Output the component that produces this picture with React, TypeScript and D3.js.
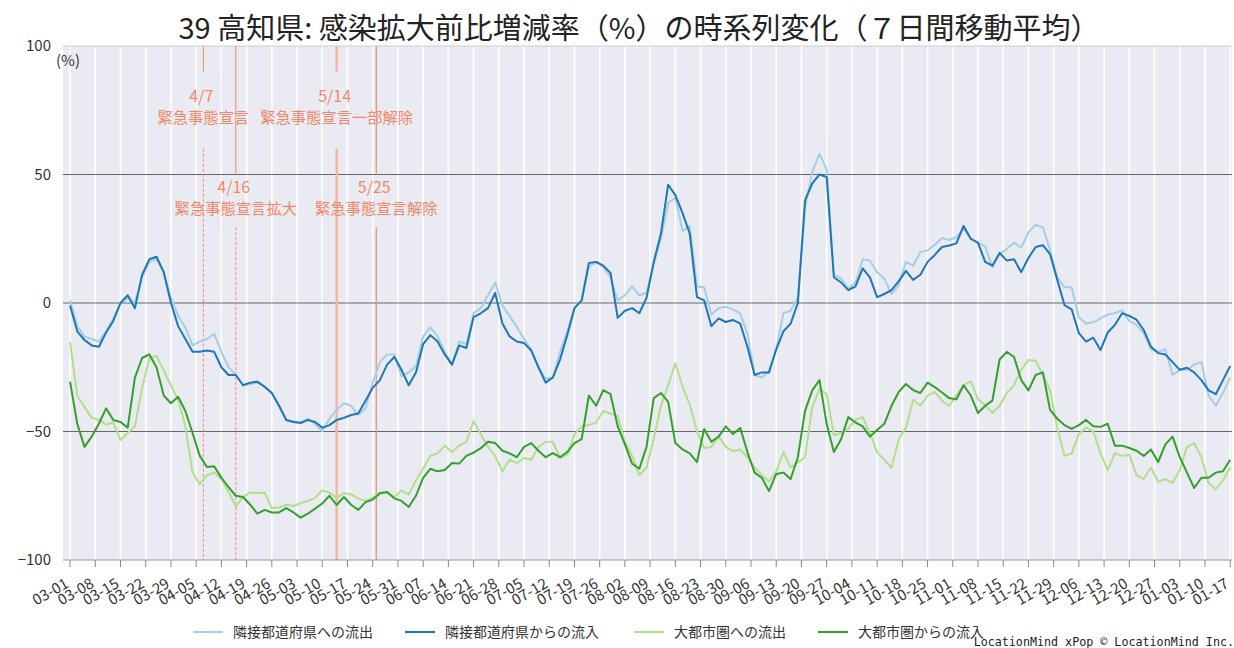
import * as d3 from 'd3';

// 2-day samples, 2020-03-01 .. 2021-01-17
const START = new Date(2020, 2, 1);
const STEP_DAYS = 2;

const neighborOut = [
  1, -9, -13, -14, -15, -11, -6, 0, 2, 0, 10, 16, 17, 12, 2, -5, -9.5, -16.5, -15, -14,
  -12, -19, -25, -28, -32, -31.5, -31, -32.5, -35, -40, -45.5, -46, -46.5, -45, -47, -50, -45, -41.5, -39, -40,
  -43.5, -41, -31, -23, -20, -20, -28.5, -27, -24.5, -13, -9.5, -13, -19, -24, -15, -16, -4, -2, 3, 8,
  -1, -5, -9.3, -14, -18, -25, -29.5, -29, -19, -11, -2, 1, 14, 16, 14, 10, 1, 3, 6.5, 3,
  4, 15, 25, 39, 41, 28, 30, 6.5, 6, -4.5, -2, -1.5, -2.5, -4, -12, -28, -29, -26.5, -18, -4,
  -3, 2, 37, 51, 58, 52, 11, 9.5, 5.5, 8, 17, 16.5, 12, 9.5, 3.5, 7, 16, 14.5, 19.8, 20.5,
  22.6, 25.3, 24.5, 25.6, 29, 25, 23.5, 22, 14, 19, 21, 23.5, 21.5, 27.5, 30.4, 29.5, 20.6, 10, 6.2, 6,
  -5.5, -8, -7.5, -6, -4.5, -4, -2.8, -7, -8.5, -11.7, -18, -19, -18, -28, -26, -26, -24, -23, -36, -40,
  -35, -29,
];

const neighborIn = [
  -1, -11, -14.4, -16.5, -17, -11.5, -7, 0, 3, -2, 11, 17, 18, 12, 0, -9, -14, -19, -19, -18.5,
  -19, -25, -28, -28, -32, -31, -30.6, -32.6, -35, -40, -45.5, -46.3, -46.7, -45.5, -46.3, -48.5, -47.5, -45.5, -44.7, -43.6,
  -43, -38, -33, -30, -24, -21, -26, -32, -27, -16, -12.5, -15, -20, -24, -16.5, -17.5, -5.5, -4, -2, 3.9,
  -8, -13, -15, -15.6, -18.5, -25, -31, -29, -22, -12.5, -2, 1, 15.6, 16, 14.5, 11.7, -5.8, -3, -2, -4,
  2, 16, 27, 46, 42, 35, 27, 2.3, 1, -9, -6, -7.4, -6.6, -8, -17, -28, -27, -27, -18, -11,
  -8, 0, 40, 46.5, 50, 49, 10, 8, 5, 6.5, 13.5, 10, 2.3, 3.5, 5, 8.5, 12.5, 9, 11, 16,
  18.7, 21.8, 22.4, 23.2, 30, 25, 23.4, 16, 14.5, 19.5, 16.5, 17, 12, 17.5, 21.8, 22.5, 19, 9, -0.8, -2.5,
  -11.7, -15, -13.5, -18.3, -11.5, -8.5, -4, -5, -6.5, -10.5, -17, -19.5, -20, -23, -26, -25.2, -27, -30, -34, -35.5,
  -30, -24.5,
];

const metroOut = [
  -15.2, -36, -40.5, -44.7, -45.5, -47.3, -46.5, -53.3, -50.6, -48, -33, -21.5, -20.5, -26.2, -32, -37.7, -48, -66, -70.5, -67,
  -66, -68.5, -73.5, -79.2, -75.5, -73.7, -73.9, -73.7, -79.8, -79.6, -78.5, -79, -77.9, -77, -75.8, -72.9, -73.8, -75.9, -73.9, -74.5,
  -76, -77, -75.8, -73.8, -73.9, -75.6, -73, -74.5, -69, -64.5, -59.5, -58.5, -55.5, -58, -55.5, -54, -46, -51, -56, -59.5,
  -65.5, -61, -62.3, -60.3, -61, -56, -54, -54, -60.3, -59, -51, -48, -47.5, -46.5, -42, -43, -44, -54, -59.5, -67,
  -64, -52.8, -40, -32, -23.5, -32.5, -39.5, -50, -56.4, -56, -52, -56, -57.7, -57, -60, -64, -67, -69.5, -65.5, -58,
  -64, -62, -60, -40.5, -33.5, -35.5, -51.4, -50.6, -49, -45.5, -44.4, -50.6, -58, -61, -64, -53, -48.5, -37.7, -40, -36,
  -34.6, -38, -40, -36, -32, -30.5, -37.5, -39.7, -42.8, -40, -35, -32, -26, -22.2, -22.5, -28, -34, -48.6, -59.5, -58.5,
  -51, -48.5, -50, -58.5, -65, -58.5, -59.5, -59, -67, -68.5, -64, -69.6, -68.5, -70, -65, -56, -54.5, -60, -70, -72.5,
  -69, -64,
];

const metroIn = [
  -30.6, -47, -56, -52, -47, -41, -45.5, -46.3, -48.5, -29, -21.4, -20, -25, -36, -39, -36.5, -42, -50.6, -59.5, -63.8,
  -63.5, -68, -71.6, -75, -75.5, -78.5, -82, -80.5, -81.5, -81.5, -79.8, -81.5, -83.5, -82, -80, -78, -75, -78.6, -75.5, -78.5,
  -80.5, -77.5, -76.5, -74, -73.5, -76, -77, -79.4, -75, -68, -64.5, -65.5, -65, -62.3, -62.5, -59.5, -58.2, -56.5, -54, -54.5,
  -57.5, -58.5, -60, -56, -54.5, -57.5, -60, -58.4, -60, -58, -54.5, -53, -36, -40, -33.9, -35.5, -48, -55, -62.5, -64.5,
  -56, -37, -35, -38.5, -54.5, -57, -58.5, -61.9, -49, -54, -52, -48, -51, -48.6, -58, -66, -68, -73.2, -66.5, -66,
  -68.5, -60, -42, -34, -30, -47, -58, -53, -44.4, -46.5, -48, -52, -49.4, -47, -40, -34.6, -31.5, -33.9, -35, -31,
  -32.7, -34.8, -37, -37.5, -32, -36, -42.8, -40, -38, -22, -19, -21, -30, -34, -28, -27, -41.6, -45, -47.5, -49,
  -47.5, -45.5, -48, -48.2, -47, -55.5, -55.5, -56.4, -57.5, -59.5, -57, -61.9, -55, -52, -60, -66, -72, -68, -68, -66,
  -65.5, -61,
];

const seriesNames = ['隣接都道府県への流出', '隣接都道府県からの流入', '大都市圏への流出', '大都市圏からの流入'];
const seriesColors = ['#a6cee3', '#1f78b4', '#b2df8a', '#33a02c'];
const seriesValues = [neighborOut, neighborIn, metroOut, metroIn];

const yTicks = [100, 50, 0, -50, -100];
const yGridValues = [50, 0, -50];

// emergency declaration events (days from 03-01)
const eventDays = [37, 46, 74, 85];
const eventDates = ['4/7', '4/16', '5/14', '5/25'];
const eventTexts = ['緊急事態宣言', '緊急事態宣言拡大', '緊急事態宣言一部解除', '緊急事態宣言解除'];

const TITLE = '39 高知県: 感染拡大前比増減率（%）の時系列変化（７日間移動平均）';
const JP = '"Noto Sans CJK JP", "Noto Sans", sans-serif';

const W = 1234;
const H = 648;
const left = 63;
const right = 1232;
const top = 46;
const bottom = 560;

export default function App() {
  const dates = seriesValues[0].map((_, i) => d3.timeDay.offset(START, i * STEP_DAYS));
  const tickDates = d3.range(0, 323, 7).map((d) => d3.timeDay.offset(START, d));

  const x = d3
    .scaleTime()
    .domain([d3.timeHour.offset(START, -46.6), d3.timeHour.offset(START, 322.5 * 24)])
    .range([left, right]);
  const y = d3.scaleLinear().domain([-100, 100]).range([bottom, top]);

  const line = d3
    .line<number>()
    .x((_, i) => x(dates[i]))
    .y((v) => y(v));

  const fmt = d3.timeFormat('%m-%d');
  const salmon = '#f4876a';

  // upper segment end / lower segment start of each event line (value units)
  const upperEnd = [90, 50, 90, 50];
  const lowerStart = [60, 29.5, 60, 29.5];
  const labelY1 = [102, 193, 102, 193];
  const lineStyles = [
    { w: 1, c: '#f08a70', dash: '3,2' },
    { w: 1, c: '#f08a70', dash: '3,2' },
    { w: 2.5, c: '#f7b4a2', dash: null },
    { w: 1.3, c: '#f29478', dash: null },
  ];

  return (
    <svg width={W} height={H} style={{ position: 'absolute', left: 0, top: 0, background: '#fff' }}>
      <rect x={left} y={top} width={right - left} height={bottom - top} fill="#eaeaf2" />

      {tickDates.map((d, i) => (
        <line key={'g' + i} x1={x(d)} x2={x(d)} y1={top} y2={bottom} stroke="#fff" strokeWidth={1.6} />
      ))}

      {yGridValues.map((v) => (
        <line key={'h' + v} x1={left} x2={right} y1={y(v)} y2={y(v)} stroke="#666" strokeWidth={1.2} />
      ))}
      <line x1={left} x2={right} y1={top} y2={top} stroke="#ccc" strokeWidth={1} />

      {eventDays.map((d, i) => {
        const ex = x(d3.timeDay.offset(START, d));
        const st = lineStyles[i];
        return (
          <g key={'e' + i}>
            <line x1={ex} x2={ex} y1={top} y2={y(upperEnd[i])} stroke={st.c} strokeWidth={st.w} />
            <line
              x1={ex}
              x2={ex}
              y1={y(lowerStart[i])}
              y2={bottom}
              stroke={st.c}
              strokeWidth={st.w}
              strokeDasharray={st.dash ?? undefined}
            />
            <text x={ex - 2} y={labelY1[i]} textAnchor="middle" fontFamily={JP} fontSize={16} fill={salmon}>
              {eventDates[i]}
            </text>
            <text x={ex} y={labelY1[i] + 21} textAnchor="middle" fontFamily={JP} fontSize={15.3} fill={salmon}>
              {eventTexts[i]}
            </text>
          </g>
        );
      })}

      {seriesValues.map((vals, i) => (
        <path key={'s' + i} d={line(vals) ?? ''} fill="none" stroke={seriesColors[i]} strokeWidth={2} strokeLinejoin="round" />
      ))}

      <line x1={left} x2={right} y1={bottom} y2={bottom} stroke="#999" strokeWidth={1} />
      {tickDates.map((d, i) => (
        <g key={'t' + i} transform={`translate(${x(d)},${bottom})`}>
          <line y1={0} y2={7} stroke="#888" strokeWidth={1} />
          <text
            transform="translate(-3,22) rotate(-30)"
            textAnchor="end"
            fontFamily={JP}
            fontSize={15}
            fill="#333"
            dy="0.35em"
          >
            {fmt(d)}
          </text>
        </g>
      ))}

      {yTicks.map((v) => (
        <text key={'y' + v} x={51} y={y(v)} dy="0.35em" textAnchor="end" fontFamily={JP} fontSize={15} fill="#333">
          {v < 0 ? '−' + Math.abs(v) : v}
        </text>
      ))}
      <text x={56} y={66} fontFamily={JP} fontSize={15} fill="#333">
        (%)
      </text>

      <text x={639} y={39} textAnchor="middle" fontFamily={JP} fontSize={29} fill="#222">
        {TITLE}
      </text>

      {seriesNames.map((name, i) => {
        const lx = [193, 405, 634, 818][i];
        return (
          <g key={'l' + i}>
            <line x1={lx} x2={lx + 30} y1={632} y2={632} stroke={seriesColors[i]} strokeWidth={2} />
            <text x={lx + 40} y={632} dy="0.35em" fontFamily={JP} fontSize={14} fill="#333">
              {name}
            </text>
          </g>
        );
      })}

      <text x={1234} y={646} textAnchor="end" fontFamily='"DejaVu Sans Mono", monospace' fontSize={11.7} fill="#222">
        LocationMind xPop © LocationMind Inc.
      </text>
    </svg>
  );
}
